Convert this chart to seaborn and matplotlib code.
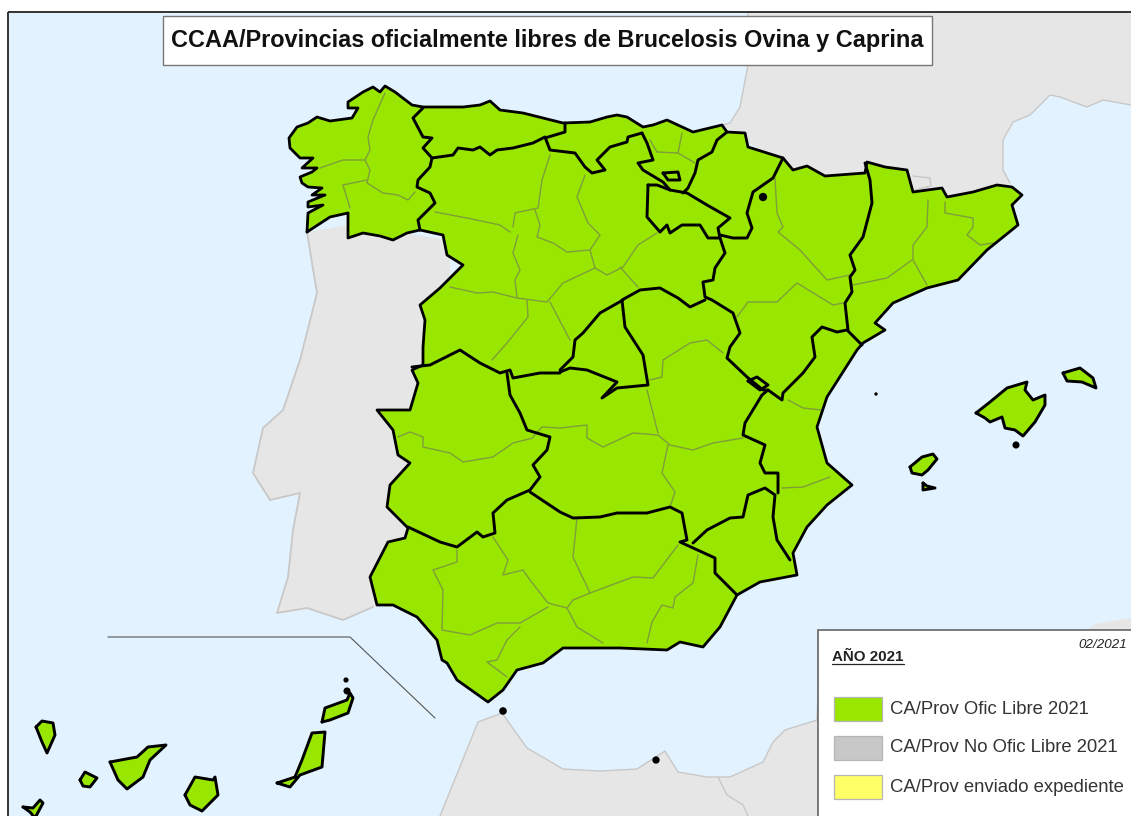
import matplotlib
matplotlib.use('Agg')
import matplotlib.pyplot as plt
from matplotlib.patches import Rectangle
import seaborn as sns

################################################################################
# Outlines, in picture pixels (x, y)
################################################################################

spain_coast = [
    (307,232),(308,213),(323,205),(308,207),(308,202),(325,195),(312,195),(322,188),(308,187),(302,183),(300,177),
    (312,172),(317,168),(302,168),(313,158),(300,158),(290,148),(289,138),(297,127),(308,123),(317,117),(330,121),
    (352,118),(358,108),(348,108),(348,102),(363,92),(373,87),(380,92),(385,86),(395,92),(412,105),(423,107),(463,107),
    (480,105),(490,101),(500,110),(523,113),(563,123),(590,122),(607,117),(617,115),(627,117),(643,127),(653,125),
    (667,120),(693,132),(722,125),(727,132),(745,133),(748,147),(783,158),(793,170),(807,166),(825,176),(865,173),
    (867,162),(885,167),(907,170),(913,192),(942,188),(947,197),(973,192),(997,185),(1012,187),(1022,195),(1012,205),
    (1018,225),(987,250),(958,280),(927,288),(893,303),(875,323),(885,330),(863,343),(857,350),(827,397),(817,427),
    (827,463),(852,485),(827,505),(807,527),(793,553),(797,575),(760,582),(737,595),(720,627),(703,647),(680,642),
    (667,650),(620,648),(563,648),(543,663),(517,670),(503,690),(488,702),(457,680),(447,663),(442,660),(437,640),
    (417,617),(393,605),(377,605),(370,577),(388,542),(405,538),(408,528),(387,507),(390,485),(410,463),(398,455),
    (393,430),(377,410),(410,410),(418,383),(412,370),(423,365),(423,347),(425,320),(420,305),(440,288),(463,265),
    (447,255),(443,235),(420,230),(407,233),(393,240),(380,236),(363,233),(348,238),(348,213),(330,217),
]
portugal_coast = [
    (307,232),(312,263),(317,293),(300,360),(283,410),(263,428),(253,473),(270,500),(300,493),(293,530),(288,577),
    (277,613),(307,608),(343,620),(373,607),(400,600),(430,500),(440,400),(450,300),(450,240),(348,225),
]
france_coast = [
    (748,12),(748,65),(740,107),(730,123),(722,125),(745,140),(783,165),(825,185),(867,175),(907,180),(913,200),
    (997,195),(1010,183),(1003,170),(1003,140),(1013,122),(1030,115),(1050,95),(1060,97),(1087,107),(1103,100),
    (1131,105),(1131,12),
]
africa_coast = [
    (440,816),(478,722),(502,713),(527,748),(563,769),(600,771),(637,769),(665,751),(678,772),(707,777),(730,777),
    (763,762),(773,742),(785,730),(817,720),(820,635),(1087,630),(1095,624),(1131,618),(1131,816),
]
africa_border = [(718,777),(727,795),(743,805),(748,816)]
andorra = [(913,176),(930,178),(931,186),(915,190)]

mallorca = [
    (976,413),(990,402),(1007,388),(1027,382),(1025,390),(1033,400),(1045,395),(1045,405),(1035,422),(1023,436),
    (1015,430),(1005,428),(1002,417),(990,422),(985,418),
]
menorca = [(1063,373),(1080,368),(1093,378),(1096,388),(1082,382),(1067,381)]
ibiza = [(910,467),(922,457),(933,454),(937,459),(928,470),(922,475),(912,473)]
formentera = [(923,483),(927,486),(935,488),(923,490)]
la_palma = [(36,727),(42,721),(53,723),(55,735),(47,753),(42,742)]
gomera = [(80,780),(85,772),(97,778),(90,787),(83,786)]
tenerife = [(110,762),(137,757),(148,747),(166,745),(150,760),(143,777),(127,789),(118,780)]
hierro = [(23,807),(33,808),(40,800),(43,803),(35,818),(30,812)]
gran_canaria = [(185,795),(195,777),(213,780),(215,777),(218,795),(202,811),(190,805)]
fuerteventura = [
    (277,783),(295,777),(302,760),(312,733),(325,732),(322,767),(300,775),(290,787),
]
lanzarote = [(322,722),(325,708),(347,700),(350,693),(353,698),(348,713),(330,720)]
islands = [mallorca, menorca, ibiza, formentera, la_palma, gomera, tenerife, hierro, gran_canaria, fuerteventura, lanzarote]

dots_x = [1016, 876, 503, 656, 346, 347, 763]
dots_y = [445, 394, 711, 760, 680, 691, 197]
dots_size = [26, 6, 30, 28, 14, 26, 36]

# Autonomous community borders
ca_borders = [
    [(423,108),(413,118),(423,137),(432,138),(423,148),(432,158),(430,167),(418,180),(417,187),(430,193),(435,203),(418,220),(420,230)],
    [(432,158),(453,155),(458,148),(473,150),(480,147),(490,155),(497,150),(513,148),(533,143),(545,137),(550,150),(575,153),(585,167),(592,173),(605,170),(597,160),(610,147),(627,142),(628,137),(642,133)],
    [(545,138),(565,132),(565,123)],
    [(642,133),(647,143),(653,160),(638,163),(643,170),(663,182),(670,190)],
    [(648,185),(647,217),(660,232),(667,225),(670,233),(682,225),(700,225),(708,238),(720,238),(718,228),(730,218),(707,205),(687,193),(670,190),(657,185),(648,185)],
    [(727,132),(717,140),(712,152),(698,160),(695,173),(688,188),(683,193)],
    [(663,173),(678,172),(680,180),(668,180),(663,173)],
    [(783,158),(773,178),(753,192),(747,213),(752,228),(747,238),(733,238),(720,235)],
    [(720,238),(725,253),(715,268),(713,280),(703,282),(705,297),(712,300),(733,313),(740,333),(730,347),(727,358),(747,377),(763,390),(768,390)],
    [(705,300),(690,307),(678,298),(660,288),(640,290),(622,300),(625,327),(643,355),(648,385),(617,388),(602,398),(617,382),(587,370),(570,368),(560,372)],
    [(623,300),(600,313),(583,333),(575,340),(573,357),(560,370)],
    [(412,367),(430,365),(460,350),(480,363),(500,373),(510,370),(513,378),(540,373),(560,373)],
    [(507,373),(510,395),(520,413),(527,430),(550,437),(547,450),(533,465),(540,477),(530,490),(507,500),(493,513),(495,533),(483,537),(477,532),(457,547),(440,542),(408,527)],
    [(530,492),(560,512),(573,518),(600,517),(617,513),(647,513),(670,507),(682,513),(687,540),(680,542),(715,558),(715,573),(737,595)],
    [(693,543),(707,530),(730,518),(743,517),(748,495),(765,488),(775,495),(773,517),(777,540),(790,560)],
    [(778,493),(778,473),(765,473),(760,463),(765,445),(743,435),(745,423),(762,395),(768,390),(782,400),(783,393),(803,373),(815,357),(812,337),(822,327),(837,332),(847,330),(862,345)],
    [(748,381),(757,377),(768,385),(760,390),(748,381)],
    [(865,163),(870,180),(872,203),(863,237),(850,255),(855,270),(850,277),(852,292),(845,303),(848,330)],
]

# Province borders
prov_borders = [
    [(385,93),(373,120),(368,137),(370,150),(365,160),(343,160),(320,168)],
    [(365,160),(370,170),(367,183),(383,193),(398,195),(408,200),(415,192)],
    [(367,180),(343,185),(350,208)],
    [(435,212),(467,218),(500,225),(510,232)],
    [(550,155),(542,180),(538,208),(515,213),(513,227)],
    [(518,235),(513,253),(520,270),(515,280),(517,297)],
    [(450,287),(477,293),(493,292),(517,298),(547,302),(563,283),(595,268)],
    [(527,300),(528,317),(507,343),(492,360)],
    [(550,302),(570,340)],
    [(535,210),(540,225),(537,237),(553,243),(567,252),(590,250)],
    [(585,175),(577,197),(588,223),(600,235),(590,250),(595,268),(607,275),(623,267),(638,245),(657,233)],
    [(620,267),(638,287)],
    [(682,133),(678,153),(695,163)],
    [(650,140),(657,152),(678,153)],
    [(775,178),(777,213),(783,227),(778,232),(800,250),(827,280),(850,275)],
    [(737,317),(748,302),(777,302),(797,283),(833,305),(843,303)],
    [(853,285),(887,278),(912,260)],
    [(928,200),(927,227),(913,245),(913,260),(927,285)],
    [(945,202),(945,213),(973,218),(973,227),(967,235),(980,245),(993,243)],
    [(788,400),(803,408),(822,410)],
    [(782,488),(803,487),(830,477)],
    [(650,380),(662,377),(663,360),(690,343),(707,340),(723,353)],
    [(647,390),(658,433)],
    [(533,437),(542,427),(560,428),(587,425),(587,438),(603,447),(633,433),(658,435),(670,445),(693,450),(713,443),(743,438)],
    [(668,445),(662,473),(675,492),(670,507)],
    [(398,437),(410,432),(423,437),(423,447),(450,453),(463,462),(493,457),(513,443),(533,438)],
    [(457,550),(457,562),(433,570),(443,590),(442,630),(470,635),(497,623),(520,623),(548,607)],
    [(493,537),(508,560),(503,575),(523,570),(530,580),(548,603),(567,608),(573,600),(590,593),(573,557),(577,518)],
    [(590,593),(633,577),(653,578),(678,545)],
    [(567,608),(577,627),(603,643)],
    [(698,555),(693,583),(675,597),(673,608),(662,605),(652,622),(647,643)],
    [(520,627),(507,640),(497,660),(487,662),(507,677)],
]

inset_line = [(108,637),(350,637),(435,718)]

title_text = 'CCAA/Provincias oficialmente libres de Brucelosis Ovina y Caprina'
legend_title = 'AÑO 2021'
legend_date = '02/2021'
legend_labels = ['CA/Prov Ofic Libre 2021', 'CA/Prov No Ofic Libre 2021', 'CA/Prov enviado expediente']
legend_colors = ['#99e600', '#c8c8c8', '#ffff66']

################################################################################

SEA = '#e2f3ff'
LAND = '#e6e6e6'
GREEN = '#99e600'

sns.set_theme(style = 'white')
plt.rcParams['font.family'] = ['Liberation Sans', 'DejaVu Sans']

fig = plt.figure(figsize = (11.31, 8.16), dpi = 100, facecolor = 'white')
ax = fig.add_axes([0, 0, 1, 1])


def trace(points, color, width, zorder, closed = False):
    '''Draw one traced outline with seaborn, keeping the traced order.'''
    pts = list(points) + [points[0]] if closed else list(points)
    sns.lineplot(
        x = [p[0] for p in pts], y = [p[1] for p in pts], sort = False, estimator = None,
        color = color, linewidth = width, zorder = zorder, ax = ax,
        solid_joinstyle = 'round', solid_capstyle = 'round'
    )


def fill(points, color, zorder):
    ax.fill([p[0] for p in points], [p[1] for p in points], color = color, linewidth = 0, zorder = zorder)


# sea, frame goes on top of the land
ax.add_patch(Rectangle((8, 12), 1130, 810, facecolor = SEA, edgecolor = 'none', zorder = 0))
ax.add_patch(Rectangle((8, 12), 1130, 810, facecolor = 'none', edgecolor = '#333333', linewidth = 1.4, zorder = 7))

# neighbouring land
for shape in [portugal_coast, france_coast, africa_coast]:
    fill(shape, LAND, 1)
trace(portugal_coast[:15], '#c8c8c8', 1.3, 2)
trace(france_coast[:5], '#c8c8c8', 1.0, 2)
trace(france_coast[12:22], '#c8c8c8', 1.0, 2)
trace(africa_coast[:16], '#c8c8c8', 1.0, 2)
trace(africa_border, '#c8c8c8', 1.0, 2)
trace(andorra, '#c8c8c8', 1.0, 2)

# Spain and the islands
fill(spain_coast, GREEN, 3)
for isle in islands:
    fill(isle, GREEN, 3)
    trace(isle, 'black', 2.1, 6, closed = True)

for line in prov_borders:
    trace(line, '#7d9f3a', 1.0, 4)
for line in ca_borders:
    trace(line, 'black', 2.1, 5)
trace(spain_coast, 'black', 2.0, 6, closed = True)

sns.scatterplot(x = dots_x, y = dots_y, color = 'black', s = dots_size, linewidth = 0, zorder = 6, ax = ax)

trace(inset_line, '#555555', 0.8, 2)

# title box
ax.add_patch(Rectangle((163, 16), 769, 49, facecolor = 'white', edgecolor = '#777777', linewidth = 1.0, zorder = 8))
ax.text(547, 41, title_text, ha = 'center', va = 'center', fontsize = 16.9, fontweight = 'bold', color = '#111111', zorder = 9)

# legend box
ax.add_patch(Rectangle((818, 630), 320, 200, facecolor = 'white', edgecolor = '#666666', linewidth = 1.2, zorder = 8))
ax.text(832, 657, legend_title, ha = 'left', va = 'center', fontsize = 10.9, fontweight = 'bold', color = '#222222', zorder = 9)
trace([(832, 664), (904, 664)], '#222222', 0.9, 9)
ax.text(1127, 645, legend_date, ha = 'right', va = 'center', fontsize = 9.6, fontstyle = 'italic', color = '#222222', zorder = 9)
for i, (label, color) in enumerate(zip(legend_labels, legend_colors)):
    top = 697 + 39 * i
    ax.add_patch(Rectangle((834, top), 48, 24, facecolor = color, edgecolor = '#b5b5b5', linewidth = 0.9, zorder = 9))
    ax.text(890, top + 12, label, ha = 'left', va = 'center', fontsize = 13.3, color = '#333333', zorder = 9)

ax.set_xlim(0, 1131)
ax.set_ylim(816, 0)
ax.set_axis_off()

fig.savefig('out.png', dpi = 100, facecolor = 'white')
